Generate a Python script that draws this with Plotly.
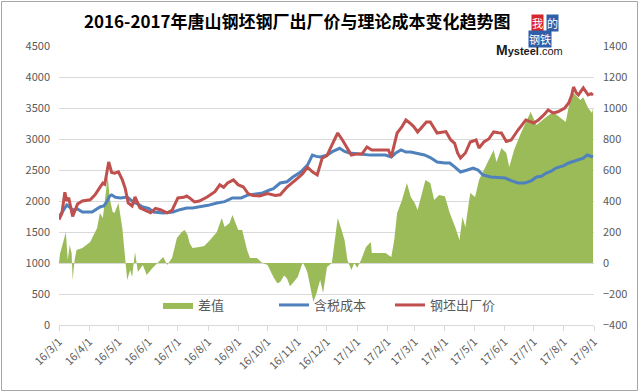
import plotly.graph_objects as go

# ---- data ----
price_dates = ["2016-03-01","2016-03-04","2016-03-07","2016-03-09","2016-03-11","2016-03-15","2016-03-20","2016-03-25",
 "2016-04-02","2016-04-07","2016-04-12","2016-04-15","2016-04-17","2016-04-20","2016-04-21","2016-04-24","2016-04-27",
 "2016-05-01","2016-05-05","2016-05-08","2016-05-11","2016-05-15","2016-05-18","2016-05-23","2016-05-28",
 "2016-06-03","2016-06-08","2016-06-13","2016-06-20","2016-06-25","2016-07-01","2016-07-07","2016-07-10","2016-07-13",
 "2016-07-18","2016-07-23","2016-07-31","2016-08-08","2016-08-13","2016-08-17","2016-08-21","2016-08-27",
 "2016-09-01","2016-09-06","2016-09-11","2016-09-16","2016-09-23","2016-10-01","2016-10-09","2016-10-14","2016-10-21",
 "2016-10-27","2016-11-01","2016-11-06","2016-11-11","2016-11-16","2016-11-21","2016-11-26","2016-12-01","2016-12-06",
 "2016-12-12","2016-12-17","2016-12-22","2016-12-26","2017-01-01","2017-01-06","2017-01-11","2017-01-16","2017-01-23",
 "2017-02-02","2017-02-05","2017-02-11","2017-02-16","2017-02-20","2017-02-24","2017-02-28","2017-03-04","2017-03-09",
 "2017-03-13","2017-03-17","2017-03-21","2017-03-24","2017-04-02","2017-04-07","2017-04-11","2017-04-14","2017-04-17",
 "2017-04-22","2017-04-27","2017-05-03","2017-05-06","2017-05-11","2017-05-16","2017-05-21","2017-05-26","2017-05-29",
 "2017-06-03","2017-06-08","2017-06-15","2017-06-23","2017-07-01","2017-07-06","2017-07-11","2017-07-16","2017-07-21",
 "2017-07-26","2017-08-02","2017-08-06","2017-08-09","2017-08-11","2017-08-14","2017-08-16","2017-08-21","2017-08-26",
 "2017-08-29","2017-08-31"]
price = [1700,1800,2140,2000,2050,1750,1950,2000,
 2020,2100,2220,2290,2270,2500,2630,2460,2450,
 2470,2340,2200,1970,1920,2065,1890,1850,
 1810,1880,1860,1810,1850,2050,2060,2080,2050,
 1985,2000,2065,2150,2260,2220,2290,2340,
 2260,2230,2120,2090,2080,2120,2090,2100,2226,
 2300,2370,2440,2545,2470,2420,2690,2730,2900,
 3097,2980,2850,2742,2760,2760,2871,2823,2823,
 2823,2710,3097,3200,3307,3258,3200,3113,3200,
 3274,3274,3180,3097,3120,2984,2930,2774,2694,
 2774,2952,2984,2855,2952,3000,3113,3100,3097,
 2960,2984,3145,3307,3258,3307,3380,3468,3420,
 3440,3500,3581,3700,3839,3740,3710,3823,3710,
 3730,3710]

cost_dates = ["2016-03-01","2016-03-05","2016-03-09","2016-03-12","2016-03-15","2016-03-20","2016-03-25","2016-04-04",
 "2016-04-12","2016-04-16","2016-04-19","2016-04-22","2016-04-24","2016-04-28","2016-05-03","2016-05-10","2016-05-16",
 "2016-05-21","2016-05-26","2016-06-01","2016-06-06","2016-06-16","2016-06-26","2016-07-03","2016-07-10","2016-07-16",
 "2016-07-23","2016-08-01","2016-08-10","2016-08-18","2016-08-26","2016-09-04","2016-09-11","2016-09-19","2016-09-26",
 "2016-10-02","2016-10-07","2016-10-14","2016-10-21","2016-10-27","2016-11-04","2016-11-11","2016-11-16","2016-11-20",
 "2016-11-24","2016-12-01","2016-12-07","2016-12-14","2016-12-19","2016-12-24","2017-01-01","2017-01-08","2017-01-15",
 "2017-01-23","2017-01-30","2017-02-05","2017-02-10","2017-02-15","2017-02-20","2017-02-25","2017-03-04","2017-03-11",
 "2017-03-17","2017-03-24","2017-04-01","2017-04-06","2017-04-11","2017-04-17","2017-04-24","2017-04-30","2017-05-05",
 "2017-05-10","2017-05-18","2017-05-26","2017-06-02","2017-06-08","2017-06-15","2017-06-22","2017-06-29","2017-07-04",
 "2017-07-09","2017-07-14","2017-07-19","2017-07-24","2017-08-01","2017-08-06","2017-08-11","2017-08-16","2017-08-21",
 "2017-08-25","2017-08-31"]
cost = [1740,1850,1936,1900,1855,1870,1823,1823,
 1903,1920,1985,2080,2097,2060,2050,2065,1985,
 1950,1903,1880,1823,1807,1823,1860,1887,1887,
 1903,1930,1968,1990,2050,2050,2097,2110,2129,
 2170,2200,2290,2310,2387,2468,2580,2742,2720,
 2710,2740,2800,2850,2800,2774,2760,2742,2740,
 2742,2742,2710,2780,2823,2790,2790,2760,2742,
 2700,2630,2613,2613,2549,2468,2500,2532,2500,
 2420,2387,2380,2371,2330,2290,2290,2330,2387,
 2400,2452,2480,2532,2570,2613,2640,2661,2690,
 2742,2710]

diff_dates = ["2016-03-01","2016-03-02","2016-03-06","2016-03-08","2016-03-10","2016-03-12","2016-03-14","2016-03-15",
 "2016-03-17","2016-03-19","2016-03-25","2016-04-02","2016-04-09","2016-04-12","2016-04-15","2016-04-17","2016-04-20",
 "2016-04-22","2016-04-25","2016-04-27","2016-05-01","2016-05-05","2016-05-08","2016-05-10","2016-05-13","2016-05-15",
 "2016-05-18","2016-05-21","2016-05-26","2016-05-30","2016-06-05","2016-06-10","2016-06-16","2016-06-20","2016-06-25",
 "2016-06-30","2016-07-05","2016-07-08","2016-07-11","2016-07-13","2016-07-16","2016-07-23","2016-07-28","2016-08-03",
 "2016-08-10","2016-08-15","2016-08-18","2016-08-23","2016-08-26","2016-08-29","2016-09-01","2016-09-05","2016-09-10",
 "2016-09-13","2016-09-20","2016-09-25","2016-10-01","2016-10-07","2016-10-11","2016-10-14","2016-10-18","2016-10-21",
 "2016-10-24","2016-10-27","2016-11-01","2016-11-06","2016-11-09","2016-11-11","2016-11-14","2016-11-17","2016-11-20",
 "2016-11-24","2016-11-27","2016-12-01","2016-12-06","2016-12-09","2016-12-12","2016-12-16","2016-12-19","2016-12-22",
 "2016-12-26","2016-12-29","2017-01-01","2017-01-05","2017-01-10","2017-01-15","2017-01-16","2017-01-30","2017-02-05",
 "2017-02-08","2017-02-11","2017-02-16","2017-02-21","2017-02-25","2017-03-01","2017-03-04","2017-03-09","2017-03-12",
 "2017-03-17","2017-03-21","2017-03-26","2017-04-01","2017-04-06","2017-04-09","2017-04-12","2017-04-16","2017-04-19",
 "2017-04-22","2017-04-27","2017-05-02","2017-05-06","2017-05-11","2017-05-16","2017-05-21","2017-05-24","2017-05-29",
 "2017-06-03","2017-06-06","2017-06-11","2017-06-18","2017-06-28","2017-07-04","2017-07-14","2017-07-21","2017-08-03",
 "2017-08-08","2017-08-11","2017-08-18","2017-08-21","2017-08-26","2017-08-30","2017-08-31"]
diff = [0,60,150,200,20,116,60,-110,
 20,84,97,135,225,322,290,387,560,
 420,330,322,387,225,3,-110,-45,-90,
 71,-58,-13,-77,-32,0,39,-13,32,
 161,200,213,180,129,97,103,110,148,
 200,290,232,258,310,260,213,213,84,
 32,32,3,-13,-90,-130,-123,-80,-100,
 -150,-129,-90,3,-30,-64,-150,-250,-200,
 -110,-194,-26,0,148,290,213,148,19,
 -45,0,-30,19,103,135,64,64,39,
 148,322,406,516,426,387,342,471,535,
 516,406,439,430,322,277,225,148,297,
 232,451,426,535,600,664,729,651,742,
 709,619,729,838,974,890,942,974,909,
 1070,1096,1051,1070,1000,967,1000]

series_names = ["差值", "含税成本", "钢坯出厂价"]
title_text = "2016-2017年唐山钢坯钢厂出厂价与理论成本变化趋势图"

# ---- figure ----
FONT = "Noto Sans CJK SC"
GREY = "#595959"
L, R, T, B = 59, 46, 46, 67
PW, PH = 640 - L - R, 392 - T - B


def px(x):
    return (x - L) / PW


def py(y):
    return (392 - B - y) / PH


fig = go.Figure()
fig.add_trace(go.Scatter(x=diff_dates, y=diff, name=series_names[0], yaxis="y",
                         mode="lines", line=dict(width=0, color="#9BBB59"),
                         fill="tozeroy", fillcolor="#9BBB59"))
fig.add_trace(go.Scatter(x=cost_dates, y=cost, name=series_names[1], yaxis="y2",
                         mode="lines", line=dict(width=3, color="#4F81BD")))
fig.add_trace(go.Scatter(x=price_dates, y=price, name=series_names[2], yaxis="y2",
                         mode="lines", line=dict(width=3, color="#C0504D")))

fig.update_layout(
    width=640, height=392,
    margin=dict(l=L, r=R, t=T, b=B),
    paper_bgcolor="white", plot_bgcolor="white",
    font=dict(family=FONT, color=GREY, size=11),
    showlegend=True,
    legend=dict(orientation="h", x=px(158), y=py(305), xanchor="left", yanchor="middle",
                bgcolor="rgba(0,0,0,0)", font=dict(size=13, color=GREY),
                entrywidth=71, entrywidthmode="pixels", traceorder="normal"),
    xaxis=dict(type="date", range=["2016-03-01", "2017-09-01"],
               dtick="M1", tick0="2016-03-01", tickformat="%y/%-m/%-d",
               tickangle=-45, showgrid=False, showline=True, linecolor="#D9D9D9",
               ticks="outside", ticklen=5, tickcolor="#D9D9D9",
               tickfont=dict(size=11, color=GREY), zeroline=False),
    yaxis=dict(side="right", range=[-400, 1400], dtick=200, showgrid=True,
               gridcolor="#D9D9D9", zeroline=False, showline=False,
               ticklabelstandoff=8,
               tickfont=dict(size=11, color=GREY)),
    yaxis2=dict(side="left", overlaying="y", range=[0, 4500], dtick=500,
                showgrid=False, zeroline=False, showline=False,
                ticklabelstandoff=8,
                tickfont=dict(size=11, color=GREY)),
    annotations=[
        dict(text="<b>" + title_text + "</b>", xref="paper", yref="paper",
             x=px(297), y=py(21), xanchor="center", yanchor="middle",
             showarrow=False, font=dict(family=FONT, size=17, color="#000000")),
        dict(text="我", xref="paper", yref="paper", x=px(544), y=py(14),
             showarrow=False, bgcolor="#D7262B", font=dict(family=FONT, size=11, color="white"),
             borderpad=0),
        dict(text="的", xref="paper", yref="paper", x=px(559), y=py(14),
             showarrow=False, bgcolor="#2E5FA8", font=dict(family=FONT, size=11, color="white"),
             borderpad=0),
        dict(text="钢铁", xref="paper", yref="paper", x=px(552), y=py(30),
             showarrow=False, bgcolor="#2E5FA8", font=dict(family=FONT, size=11, color="white"),
             borderpad=0),
        dict(text="<b><span style='font-size:14px'>M</span>ysteel</b>.com", xref="paper", yref="paper",
             x=px(565), y=py(50), yanchor="middle",
             showarrow=False, font=dict(family="Liberation Sans", size=11, color="#1a1a1a")),
    ],
    shapes=[dict(type="rect", xref="paper", yref="paper",
                 x0=px(1.5), x1=px(637.5), y0=py(390.5), y1=py(1.5),
                 line=dict(color="#A6A6A6", width=1), fillcolor="rgba(0,0,0,0)", layer="below")],
)

fig.write_html("out.html", config={"displayModeBar": False},
               post_script="document.body.style.margin='0';")
